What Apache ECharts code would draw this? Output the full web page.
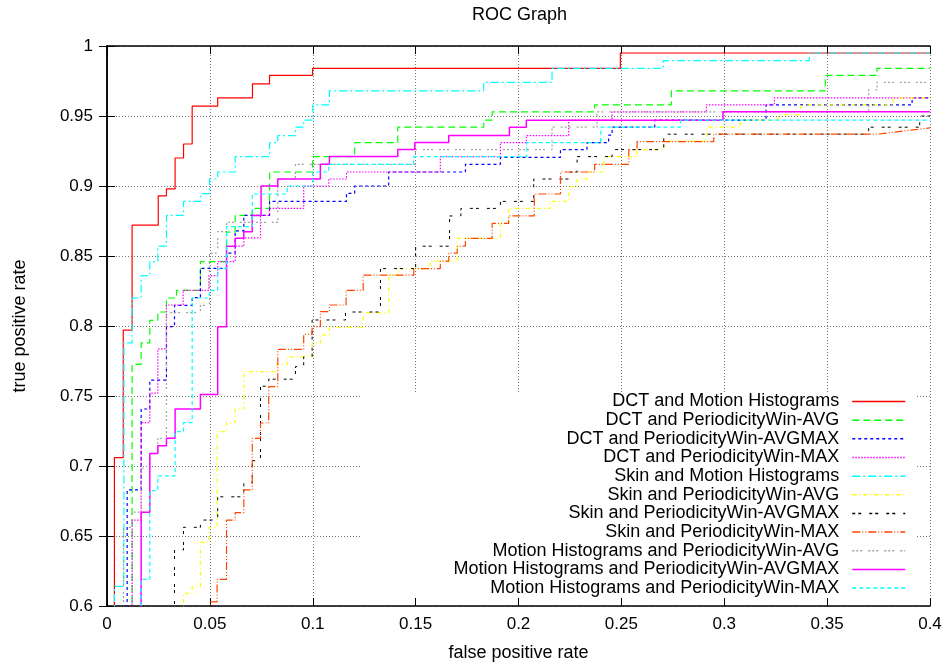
<!DOCTYPE html>
<html>
<head>
<meta charset="utf-8">
<title>ROC Graph</title>
<script src="https://cdn.jsdelivr.net/npm/echarts@6/dist/echarts.min.js"></script>
<style>
  html, body { margin: 0; padding: 0; background: #fff; }
  #myChart { width: 949px; height: 668px; }
</style>
</head>
<body>
<div id="myChart"></div>
<script>
// tick labels
const xTickLabels = ['0', '0.05', '0.1', '0.15', '0.2', '0.25', '0.3', '0.35', '0.4'];
const yTickLabels = ['0.6', '0.65', '0.7', '0.75', '0.8', '0.85', '0.9', '0.95', '1'];

const seriesNames = [
  'DCT and Motion Histograms',
  'DCT and PeriodicityWin-AVG',
  'DCT and PeriodicityWin-AVGMAX',
  'DCT and PeriodicityWin-MAX',
  'Skin and Motion Histograms',
  'Skin and PeriodicityWin-AVG',
  'Skin and PeriodicityWin-AVGMAX',
  'Skin and PeriodicityWin-MAX',
  'Motion Histograms and PeriodicityWin-AVG',
  'Motion Histograms and PeriodicityWin-AVGMAX',
  'Motion Histograms and PeriodicityWin-MAX'
];

// ROC steps: [false positive rate where tpr jumps, new true positive rate]
const dctMotion = [[0.0036, 0.706], [0.0079, 0.797], [0.0122, 0.872], [0.0249, 0.893], [0.0289, 0.898],
  [0.0331, 0.92], [0.0372, 0.93], [0.0414, 0.957], [0.0538, 0.963], [0.0707, 0.973], [0.079, 0.979],
  [0.0999, 0.984], [0.2495, 0.995]];
const dctAvg = [[0.0122, 0.7726], [0.0166, 0.788], [0.0208, 0.804], [0.0247, 0.81], [0.0289, 0.82],
  [0.0338, 0.8255], [0.0454, 0.846], [0.0581, 0.867], [0.0623, 0.879], [0.0706, 0.884], [0.079, 0.91],
  [0.0999, 0.921], [0.1204, 0.931], [0.1413, 0.942], [0.1831, 0.947], [0.1872, 0.953], [0.237, 0.958],
  [0.2743, 0.968], [0.3491, 0.979], [0.3742, 0.984]];
const dctAvgMax = [[0.0098, 0.683], [0.0166, 0.7407], [0.0208, 0.7614], [0.0289, 0.7995], [0.0328, 0.8148],
  [0.0414, 0.8202], [0.0454, 0.8412], [0.0581, 0.852], [0.0623, 0.868], [0.0665, 0.879], [0.079, 0.889],
  [0.1164, 0.8948], [0.1204, 0.9], [0.1369, 0.91], [0.1742, 0.9155], [0.1912, 0.9205], [0.2204, 0.926],
  [0.2333, 0.931], [0.2438, 0.9364], [0.2455, 0.942], [0.2662, 0.947], [0.3203, 0.958], [0.3913, 0.963]];
const dctMax = [[0.0122, 0.6614], [0.0166, 0.731], [0.0208, 0.752], [0.0247, 0.7836], [0.0289, 0.815],
  [0.037, 0.8255], [0.0495, 0.836], [0.0538, 0.846], [0.0623, 0.857], [0.0665, 0.863], [0.0746, 0.879],
  [0.079, 0.884], [0.0956, 0.9], [0.1078, 0.905], [0.1164, 0.91], [0.162, 0.921], [0.1912, 0.931],
  [0.2038, 0.936], [0.2244, 0.947], [0.2455, 0.953], [0.2913, 0.958], [0.3244, 0.963]];
const skinMotion = [[0.0036, 0.614], [0.0082, 0.788], [0.0122, 0.82], [0.0166, 0.836], [0.0208, 0.846],
  [0.0247, 0.857], [0.0289, 0.879], [0.0372, 0.889], [0.0456, 0.8945], [0.0498, 0.905], [0.0538, 0.91],
  [0.0623, 0.921], [0.079, 0.931], [0.083, 0.936], [0.0916, 0.942], [0.0956, 0.947], [0.1, 0.958],
  [0.1081, 0.968], [0.1831, 0.974], [0.2163, 0.984], [0.2703, 0.9895], [0.3414, 0.995]];
const skinAvg = [[0.0372, 0.609], [0.0414, 0.614], [0.0454, 0.6455], [0.0495, 0.656], [0.0535, 0.7245],
  [0.0581, 0.731], [0.0623, 0.7407], [0.0665, 0.7674], [0.0827, 0.7726], [0.0876, 0.778], [0.0997, 0.7876],
  [0.1037, 0.7936], [0.1081, 0.799], [0.1245, 0.8095], [0.1369, 0.8364], [0.1418, 0.841], [0.157, 0.8464],
  [0.1702, 0.8626], [0.1912, 0.8733], [0.1952, 0.884], [0.2155, 0.889], [0.2244, 0.8995], [0.2285, 0.905],
  [0.2333, 0.91], [0.2414, 0.921], [0.2576, 0.926], [0.2706, 0.932], [0.2916, 0.942], [0.3078, 0.947],
  [0.3263, 0.951], [0.3371, 0.958], [0.3821, 0.963]];
const skinAvgMax = [[0.0328, 0.64], [0.0372, 0.6562], [0.0454, 0.6614], [0.0538, 0.678], [0.0665, 0.688],
  [0.0706, 0.7038], [0.0746, 0.757], [0.0786, 0.762], [0.0916, 0.771], [0.0956, 0.778], [0.0997, 0.8043],
  [0.1159, 0.81], [0.1329, 0.841], [0.15, 0.857], [0.1665, 0.8786], [0.172, 0.884], [0.1912, 0.889],
  [0.2074, 0.905], [0.2252, 0.91], [0.2285, 0.921], [0.2455, 0.926], [0.2706, 0.937], [0.3702, 0.942],
  [0.395, 0.95]];
const skinMax = [[0.0503, 0.603], [0.0535, 0.619], [0.0581, 0.6614], [0.0623, 0.6667], [0.0665, 0.6829],
  [0.0706, 0.7198], [0.0746, 0.7307], [0.0786, 0.7567], [0.083, 0.7833], [0.0956, 0.794], [0.0997, 0.7995],
  [0.1037, 0.8102], [0.1081, 0.815], [0.1162, 0.8255], [0.1245, 0.8364], [0.1491, 0.841], [0.162, 0.8464],
  [0.1661, 0.852], [0.1702, 0.857], [0.1742, 0.8626], [0.1872, 0.8733], [0.1952, 0.8786], [0.2077, 0.8943],
  [0.2204, 0.91], [0.237, 0.9155], [0.2536, 0.926], [0.2576, 0.9317], [0.2949, 0.937]];
// last segment of this curve is a sloped line, not a step
const skinMaxTail = [[0.3742, 0.937], [0.4, 0.9415]];
const motionAvg = [[0.008, 0.6562], [0.0122, 0.667], [0.0166, 0.6984], [0.0208, 0.709], [0.0247, 0.7198],
  [0.0289, 0.8095], [0.0454, 0.8148], [0.0498, 0.852], [0.0538, 0.8674], [0.0581, 0.874], [0.083, 0.905],
  [0.0916, 0.9155], [0.1499, 0.926], [0.2163, 0.942], [0.2382, 0.953], [0.3702, 0.9686], [0.3742, 0.974]];
const motionAvgMax = [[0.0166, 0.667], [0.0208, 0.709], [0.0247, 0.7145], [0.0289, 0.7198], [0.0331, 0.7407],
  [0.0454, 0.751], [0.0538, 0.7995], [0.0581, 0.857], [0.0623, 0.8626], [0.0665, 0.8674], [0.0706, 0.879],
  [0.0749, 0.9], [0.083, 0.905], [0.1037, 0.9155], [0.1081, 0.921], [0.1413, 0.926], [0.1496, 0.931],
  [0.1661, 0.936], [0.1956, 0.942], [0.2038, 0.947], [0.2994, 0.953]];
const motionMax = [[0.0166, 0.619], [0.0208, 0.6824], [0.0247, 0.693], [0.0331, 0.7245], [0.0372, 0.731],
  [0.0414, 0.82], [0.0498, 0.8255], [0.0538, 0.841], [0.0581, 0.871], [0.0706, 0.8943], [0.0876, 0.9],
  [0.0999, 0.91], [0.1078, 0.9155], [0.149, 0.921], [0.204, 0.931], [0.24, 0.942], [0.2787, 0.947]];

const curves = [dctMotion, dctAvg, dctAvgMax, dctMax, skinMotion, skinAvg, skinAvgMax, skinMax,
  motionAvg, motionAvgMax, motionMax];
const tails = {7: skinMaxTail};

// gnuplot style line types
const lineColors = ['#ff0000', '#00ff00', '#0000ff', '#ff00ff', '#00ffff', '#ffff00', '#000000',
  '#ff4500', '#a0a0a0', '#ff00ff', '#00ffff'];
const lineDashes = ['solid', [7, 4], [3, 3], [1.5, 1.5], [8, 3, 2, 3], [4, 3, 1, 3], [3, 3, 3, 8],
  [8, 2, 1, 2, 1, 2], [2, 2, 2, 2, 2, 6], 'solid', [4, 3]];
const lineWidths = [1.2, 1.2, 1.2, 1.2, 1.2, 1.2, 1, 1.2, 1.2, 1.5, 1.2];

// turn the jump points into the corners of a staircase
function stairs(pts, tail) {
  let out = [[pts[0][0], 0.5]];
  pts.forEach(function (p, i) {
    if (i > 0) out.push([p[0], pts[i - 1][1]]);
    out.push(p);
  });
  return out.concat(tail || [[0.4, pts[pts.length - 1][1]]]);
}

const fmt = function (v) { return String(parseFloat(v.toFixed(2))); };
const font = 'Liberation Sans';

let series = curves.map(function (c, i) {
  return {
    name: seriesNames[i],
    type: 'line',
    data: stairs(c, tails[i]),
    symbol: 'none',
    clip: true,
    animation: false,
    lineStyle: {color: lineColors[i], type: lineDashes[i], width: lineWidths[i], cap: 'butt'},
    itemStyle: {color: lineColors[i]}
  };
});

// one legend per row, right aligned like the gnuplot key
let legends = seriesNames.map(function (n, i) {
  return {
    data: [n],
    orient: 'vertical',
    right: 43,
    top: 392.5 + i * 18.66,
    padding: 0,
    align: 'right',
    itemWidth: 53,
    itemHeight: 9,
    selectedMode: false,
    itemStyle: {color: 'rgba(255,255,255,0)', borderWidth: 0},
    lineStyle: {color: lineColors[i], type: lineDashes[i], width: 1.5, opacity: 1},
    textStyle: {fontFamily: font, fontSize: 18, color: '#000', padding: [0, 8, 0, 0]}
  };
});

const gridLine = {show: true, lineStyle: {color: '#777', type: [1, 2], width: 1}};
const frame = {show: true, lineStyle: {color: '#000', width: 1.5}};
const ticks = {show: true, inside: true, length: 8, lineStyle: {color: '#000', width: 1}};

let option = {
  backgroundColor: '#fff',
  textStyle: {fontFamily: font},
  title: {
    text: 'ROC Graph',
    left: 472,
    top: 6,
    padding: 0,
    textStyle: {fontFamily: font, fontSize: 18, fontWeight: 'normal', color: '#000'}
  },
  legend: legends,
  grid: {left: 107, right: 19, top: 46, bottom: 62, containLabel: false},
  graphic: {
    elements: [{
      type: 'rect',
      z: 1,
      shape: {x: 360, y: 392, width: 555, height: 205},
      style: {fill: '#fff'},
      silent: true
    }]
  },
  xAxis: [{
    type: 'value',
    position: 'bottom',
    min: 0,
    max: 0.4,
    interval: 0.05,
    name: 'false positive rate',
    nameLocation: 'middle',
    nameGap: 38,
    nameTextStyle: {fontFamily: font, fontSize: 18, color: '#000'},
    axisLine: frame,
    axisTick: ticks,
    splitLine: gridLine,
    axisLabel: {
      margin: 10, fontSize: 17, color: '#000', fontFamily: font,
      formatter: function (v, i) { return xTickLabels[i] !== undefined ? xTickLabels[i] : fmt(v); }
    }
  }, {
    type: 'value',
    position: 'top',
    min: 0,
    max: 0.4,
    interval: 0.05,
    axisLine: frame,
    axisTick: ticks,
    splitLine: {show: false},
    axisLabel: {show: false}
  }],
  yAxis: [{
    type: 'value',
    position: 'left',
    min: 0.6,
    max: 1,
    interval: 0.05,
    name: 'true positive rate',
    nameLocation: 'middle',
    nameGap: 78,
    nameRotate: 90,
    nameTextStyle: {fontFamily: font, fontSize: 18, color: '#000'},
    axisLine: frame,
    axisTick: ticks,
    splitLine: gridLine,
    axisLabel: {
      margin: 14, fontSize: 17, color: '#000', fontFamily: font,
      formatter: function (v, i) { return yTickLabels[i] !== undefined ? yTickLabels[i] : fmt(v); }
    }
  }, {
    type: 'value',
    position: 'right',
    min: 0.6,
    max: 1,
    interval: 0.05,
    axisLine: frame,
    axisTick: ticks,
    splitLine: {show: false},
    axisLabel: {show: false}
  }],
  series: series
};

let myChart = echarts.init(document.getElementById('myChart'));
myChart.setOption(option);
</script>
</body>
</html>
